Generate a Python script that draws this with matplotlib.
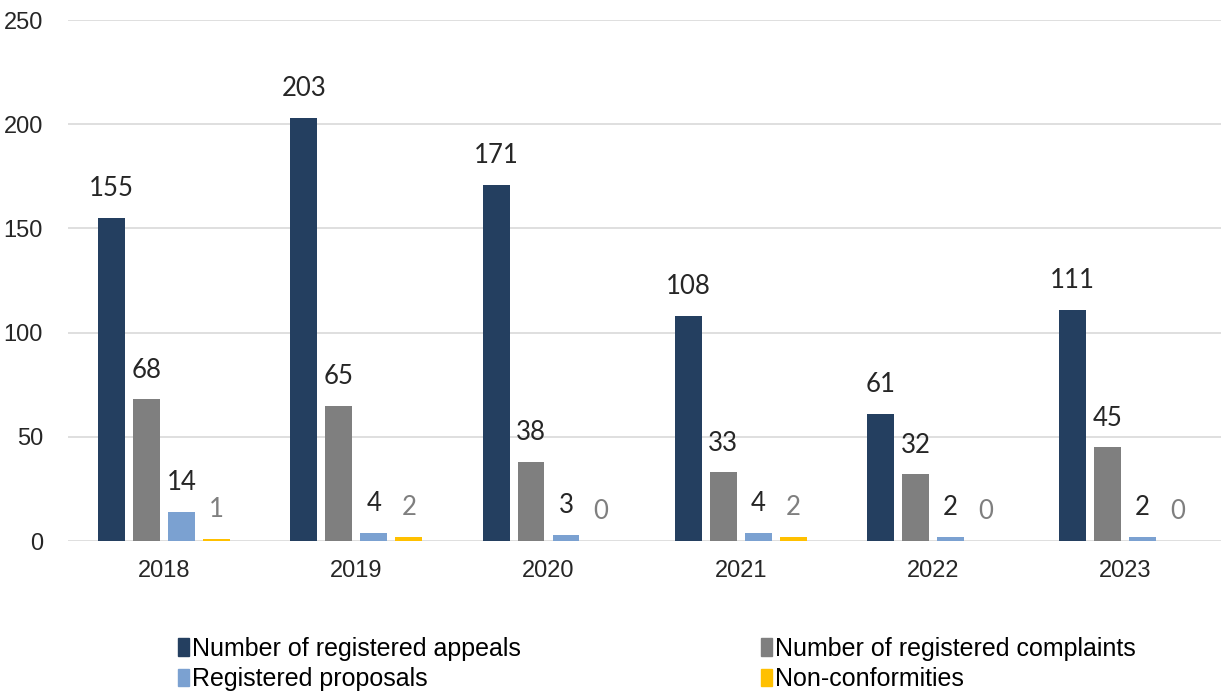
import numpy as np
import matplotlib.pyplot as plt
from matplotlib.patches import Patch

years = ["2018", "2019", "2020", "2021", "2022", "2023"]
appeals = [155, 203, 171, 108, 61, 111]
complaints = [68, 65, 38, 33, 32, 45]
proposals = [14, 4, 3, 4, 2, 2]
nonconformities = [1, 2, 0, 2, 0, 0]

series_names = ["Number of registered appeals", "Number of registered complaints",
                "Registered proposals", "Non-conformities"]
colors = ["#243F60", "#7F7F7F", "#7BA1D1", "#FFC000"]
label_colors = ["#262626", "#262626", "#262626", "#7F7F7F"]

TICK_FONT = ["Liberation Sans", "DejaVu Sans"]
LABEL_FONT = ["Lato", "DejaVu Sans"]
LEGEND_FONT = ["Liberation Sans Narrow", "Liberation Sans", "DejaVu Sans"]


def main():
    fig = plt.figure(figsize=(12.23, 6.91), dpi=100)
    ax = fig.add_axes([0.0556, 0.217, 0.943, 0.754])

    x = np.arange(len(years))
    width = 0.14
    step = 0.182
    offsets = [-1.5 * step, -0.5 * step, 0.5 * step, 1.5 * step]
    data = [appeals, complaints, proposals, nonconformities]

    for vals, off, col, lcol in zip(data, offsets, colors, label_colors):
        bars = ax.bar(x + off, vals, width, color=col, zorder=3)
        for b, v in zip(bars, vals):
            ax.annotate(str(v), (b.get_x() + b.get_width() / 2, v),
                        xytext=(0, 12), textcoords="offset points",
                        ha="center", va="bottom", fontsize=18.5,
                        color=lcol, family=LABEL_FONT)

    ax.set_xlim(-0.5, len(years) - 0.5)
    ax.set_ylim(0, 250)
    ax.set_yticks(range(0, 251, 50))
    ax.set_xticks(x)
    ax.set_xticklabels(years)
    ax.yaxis.grid(True, color="#D9D9D9", linewidth=1.2, zorder=0)
    ax.set_axisbelow(True)
    for s in ax.spines.values():
        s.set_visible(False)
    ax.tick_params(axis="both", length=0, labelsize=17, colors="#262626")
    ax.tick_params(axis="x", pad=14)
    ax.tick_params(axis="y", pad=18)
    for lab in ax.get_xticklabels() + ax.get_yticklabels():
        lab.set_family(TICK_FONT)

    # legend: 2 columns, row order appeals/complaints then proposals/non-conf
    handles = [Patch(color=c) for c in colors]
    order = [0, 2, 1, 3]
    fig.legend([handles[i] for i in order], [series_names[i] for i in order],
               ncol=2, loc="center left", bbox_to_anchor=(0.1455, 0.039),
               frameon=False, handlelength=0.45, handleheight=0.7,
               handletextpad=0.12, columnspacing=9.6, labelspacing=0.25,
               borderpad=0, borderaxespad=0,
               prop={"family": LEGEND_FONT, "size": 18})

    fig.savefig("out.png", dpi=100)


if __name__ == "__main__":
    main()
